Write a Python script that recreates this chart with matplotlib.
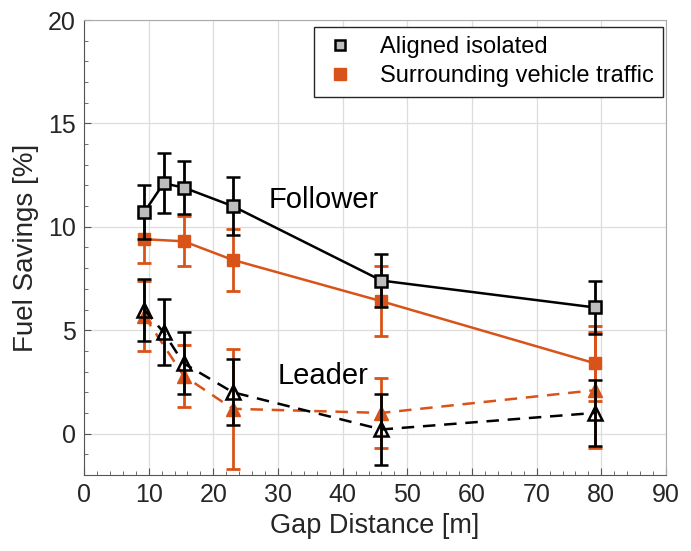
import matplotlib
matplotlib.use("Agg")
import matplotlib.pyplot as plt
from matplotlib.ticker import MultipleLocator
from matplotlib.lines import Line2D
import numpy as np

plt.rcParams['font.family'] = ['Liberation Sans', 'DejaVu Sans']

# gap distances [m]
gap_all = [9.3, 12.3, 15.4, 23.0, 46.0, 79.0]
gap_sur = [9.3, 15.4, 23.0, 46.0, 79.0]

# follower, aligned isolated
fol_iso = [10.7, 12.1, 11.9, 11.0, 7.4, 6.1]
fol_iso_err = [1.3, 1.45, 1.3, 1.4, 1.3, 1.3]
# follower, surrounding traffic
fol_sur = [9.4, 9.3, 8.4, 6.4, 3.4]
fol_sur_err = [1.15, 1.2, 1.5, 1.7, 1.8]
# leader, aligned isolated
lead_iso = [6.0, 4.9, 3.4, 2.0, 0.2, 1.0]
lead_iso_err = [1.5, 1.6, 1.5, 1.6, 1.7, 1.6]
# leader, surrounding traffic
lead_sur = [5.7, 2.8, 1.2, 1.0, 2.1]
lead_sur_err = [1.7, 1.5, 2.9, 1.7, 2.8]

orange = '#D95319'
gray = '#BDBDBD'
dark = '#262626'

fig = plt.figure(figsize=(6.91, 5.51), dpi=100)
ax = fig.add_axes([0.1216, 0.138, 0.8422, 0.8257])

kw = dict(capsize=5, elinewidth=2, capthick=2, lw=1.8)
ax.errorbar(gap_all, fol_iso, yerr=fol_iso_err, color='black', marker='s',
            markersize=8, markerfacecolor=gray, markeredgecolor='black',
            markeredgewidth=1.8, zorder=4, **kw)
ax.errorbar(gap_sur, fol_sur, yerr=fol_sur_err, color=orange, marker='s',
            markersize=8, markerfacecolor=orange, markeredgecolor=orange, zorder=3, **kw)
ax.errorbar(gap_all, lead_iso, yerr=lead_iso_err, color='black', marker='^',
            markersize=10, markerfacecolor='none', markeredgecolor='black',
            markeredgewidth=1.8, ls=(0, (5, 3.5)), zorder=4, **kw)
ax.errorbar(gap_sur, lead_sur, yerr=lead_sur_err, color=orange, marker='^',
            markersize=10, markerfacecolor=orange, markeredgecolor=orange,
            ls=(0, (5, 3.5)), zorder=3, **kw)

ax.text(28.6, 11.3, 'Follower', fontsize=21, va='center', ha='left', color='black')
ax.text(30.0, 2.8, 'Leader', fontsize=21, va='center', ha='left', color='black')

ax.set_xlim(0, 90)
ax.set_ylim(-2, 20)
ax.set_xticks(np.arange(0, 91, 10))
ax.set_yticks([0, 5, 10, 15, 20])
ax.xaxis.set_minor_locator(MultipleLocator(2))
ax.yaxis.set_minor_locator(MultipleLocator(1))
ax.tick_params(which='both', direction='in', top=False, right=False, labelsize=18,
               colors='#555555', labelcolor=dark, pad=6)
ax.tick_params(which='major', length=5)
ax.tick_params(which='minor', length=3)
ax.grid(True, which='major', color='#DDDDDD', lw=0.9)
ax.set_axisbelow(True)
for s in ax.spines.values():
    s.set_color('#AAAAAA')
ax.spines['left'].set_color('#555555')
ax.spines['bottom'].set_color('#555555')

ax.set_xlabel('Gap Distance [m]', fontsize=19.5, color=dark, labelpad=4)
ax.set_ylabel('Fuel Savings [%]', fontsize=20, color=dark, labelpad=6)

handles = [
    Line2D([], [], ls='none', marker='s', markersize=7, markerfacecolor=gray,
           markeredgecolor='black', markeredgewidth=1.8),
    Line2D([], [], ls='none', marker='s', markersize=8, markerfacecolor=orange,
           markeredgecolor=orange),
]
leg = ax.legend(handles, ['Aligned isolated', 'Surrounding vehicle traffic'],
                loc='upper right', fontsize=17, fancybox=False, framealpha=1,
                edgecolor=dark, borderpad=0.4, handlelength=1.4, handletextpad=1.0,
                labelspacing=0.3, borderaxespad=0, bbox_to_anchor=(0.995, 0.985))
leg.get_frame().set_linewidth(1.0)

plt.savefig('out.png', dpi=100)
